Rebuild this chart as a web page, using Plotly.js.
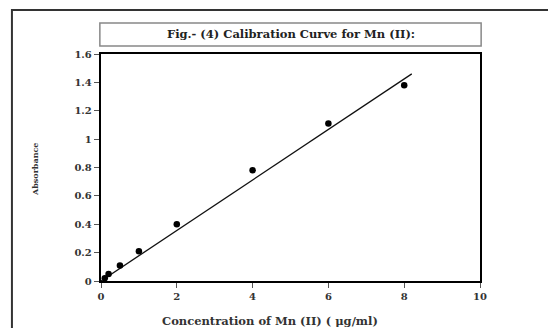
<!DOCTYPE html>
<html><head><meta charset="utf-8">
<script src="https://cdn.plot.ly/plotly-3.0.1.min.js"></script>
<style>html,body{margin:0;padding:0;background:#fff}#c{width:548px;height:328px}</style>
</head><body><div id="c"></div>
<script>
const concentration = [0.1, 0.2, 0.5, 1, 2, 4, 6, 8];
const absorbance = [0.02, 0.05, 0.11, 0.21, 0.40, 0.78, 1.11, 1.38];
const fitX = [0, 8.2];
const fitY = [0, 1.46];
const xTicks = [0, 2, 4, 6, 8, 10];
const yTicks = [0, 0.2, 0.4, 0.6, 0.8, 1, 1.2, 1.4, 1.6];

const F = 'DejaVu Serif, Liberation Serif, serif';
const traces = [
  {x: fitX, y: fitY, mode: 'lines', line: {color: '#111', width: 1.3}, hoverinfo: 'skip'},
  {x: concentration, y: absorbance, mode: 'markers', marker: {color: '#000', size: 6.5, symbol: 'circle'}}
];
const layout = {
  width: 548, height: 328,
  margin: {l: 101, r: 68, t: 54, b: 47},
  paper_bgcolor: '#fff', plot_bgcolor: '#fff',
  showlegend: false,
  font: {family: F, color: '#222'},
  xaxis: {range: [0, 10], tickvals: xTicks, ticktext: xTicks.map(String),
    showgrid: false, zeroline: false, showline: true, linecolor: '#000', linewidth: 2.2, mirror: true,
    ticks: 'outside', ticklen: 5, tickcolor: '#555', tickwidth: 1,
    tickfont: {family: F, size: 10, color: '#333', weight: 'bold'}},
  yaxis: {range: [0, 1.6], tickvals: yTicks, ticktext: yTicks.map(String),
    showgrid: false, zeroline: false, showline: true, linecolor: '#000', linewidth: 2.2, mirror: true,
    ticks: 'outside', ticklen: 5, tickcolor: '#555', tickwidth: 1,
    tickfont: {family: F, size: 10, color: '#333', weight: 'bold'}},
  shapes: [
    {type: 'rect', xref: 'paper', yref: 'paper', x0: -0.235, x1: 1.4, y0: -0.4, y1: 1.194,
     line: {color: '#333', width: 2}, fillcolor: 'rgba(0,0,0,0)'},
    {type: 'rect', xref: 'paper', yref: 'paper', x0: -0.003, x1: 1.003, y0: 1.035, y1: 1.137,
     line: {color: '#888', width: 1.5}, fillcolor: 'rgba(0,0,0,0)'}
  ],
  annotations: [
    {text: '<b>Fig.- (4) Calibration Curve for Mn (II):</b>', xref: 'paper', yref: 'paper',
     x: 0.5, y: 1.086, showarrow: false, xanchor: 'center', yanchor: 'middle',
     font: {family: F, size: 11.5, color: '#222'}},
    {text: '<b>Absorbance</b>', xref: 'paper', yref: 'paper', x: (35 - 101) / 379, y: (281 - 170) / 227,
     textangle: -90, showarrow: false, xanchor: 'center', yanchor: 'middle',
     font: {family: F, size: 8, color: '#333'}},
    {text: '<b>Concentration of Mn (II) ( μg/ml)</b>', xref: 'paper', yref: 'paper',
     x: (270 - 101) / 379, y: (281 - 321) / 227, showarrow: false, xanchor: 'center', yanchor: 'middle',
     font: {family: F, size: 11.5, color: '#333'}}
  ]
};
Plotly.newPlot('c', traces, layout, {displayModeBar: false, staticPlot: true});
</script>
</body></html>
